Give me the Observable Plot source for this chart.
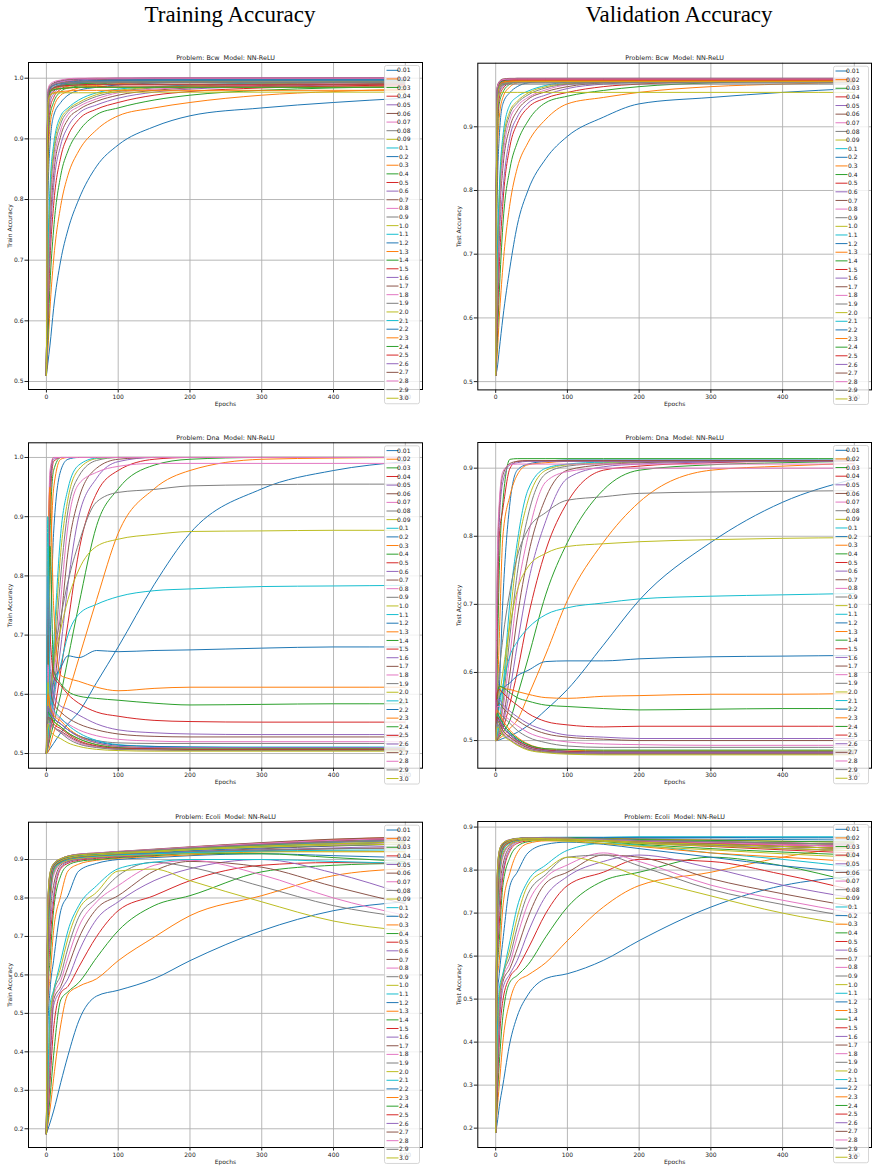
<!DOCTYPE html>
<html><head><meta charset="utf-8">
<script src="https://cdn.jsdelivr.net/npm/d3@7"></script>
<script src="https://cdn.jsdelivr.net/npm/@observablehq/plot@0.6"></script>
<style>
body{margin:0;background:#fff;}
#fig{position:relative;width:878px;height:1172px;overflow:hidden;background:#fff;}
.coltitle{position:absolute;top:2px;font-family:"Liberation Serif","DejaVu Serif",serif;font-size:23px;line-height:26px;color:#000;transform:translateX(-50%);white-space:nowrap;}
.panel{position:absolute;}
.panel svg{max-width:none;overflow:visible;}
</style></head><body><div id="fig"></div>
<script>
const rates = ["0.01","0.02","0.03","0.04","0.05","0.06","0.07","0.08","0.09","0.1","0.2","0.3","0.4","0.5","0.6","0.7","0.8","0.9","1.0","1.1","1.2","1.3","1.4","1.5","1.6","1.7","1.8","1.9","2.0","2.1","2.2","2.3","2.4","2.5","2.6","2.7","2.8","2.9","3.0"];
const epochs = [0,2,5,10,20,30,45,70,100,150,200,300,400,499];
const xTicks = [0,100,200,300,400,500];
const yTicksBcwTrain = [0.5,0.6,0.7,0.8,0.9,1.0];
const yTicksBcwTest = [0.5,0.6,0.7,0.8,0.9];
const yTicksDnaTrain = [0.5,0.6,0.7,0.8,0.9,1.0];
const yTicksDnaTest = [0.5,0.6,0.7,0.8,0.9];
const yTicksEcoliTrain = [0.2,0.3,0.4,0.5,0.6,0.7,0.8,0.9];
const yTicksEcoliTest = [0.2,0.3,0.4,0.5,0.6,0.7,0.8,0.9];

const bcwTrain = [
[.51,.53,.56,.62,.70,.75,.80,.855,.89,.92,.938,.951,.960,.967],
[.51,.55,.62,.70,.79,.84,.88,.915,.938,.951,.960,.972,.978,.982],
[.51,.57,.66,.75,.84,.88,.912,.94,.951,.964,.972,.98,.984,.986],
[.51,.60,.70,.79,.87,.905,.932,.949,.96,.972,.978,.984,.987,.989],
[.51,.62,.725,.82,.89,.92,.942,.956,.967,.977,.982,.986,.989,.991],
[.51,.64,.75,.84,.905,.932,.948,.962,.972,.98,.984,.988,.99,.992],
[.51,.65,.77,.855,.915,.94,.953,.966,.976,.982,.985,.989,.992,.993],
[.51,.67,.79,.87,.925,.945,.957,.97,.978,.984,.987,.99,.993,.994],
[.51,.685,.805,.88,.932,.948,.96,.973,.98,.985,.988,.991,.994,.995],
[.51,.70,.82,.89,.938,.951,.964,.976,.982,.986,.989,.992,.994,.995],
[.51,.79,.89,.938,.96,.972,.98,.985,.989,.992,.994,.996,.997,.997],
[.51,.84,.92,.951,.972,.978,.984,.988,.991,.993,.995,.997,.998,.998],
[.51,.87,.938,.96,.978,.984,.987,.99,.993,.995,.996,.998,.999,.999],
[.51,.89,.95,.968,.982,.987,.99,.993,.995,.997,.998,.999,1,1],
[.51,.91,.96,.974,.985,.989,.992,.994,.996,.997,.998,.999,.999,.999],
[.51,.93,.968,.978,.987,.99,.993,.995,.997,.998,.999,1,1,1],
[.51,.94,.972,.98,.988,.991,.994,.996,.998,.999,1,1,1,1],
[.51,.95,.975,.982,.989,.992,.994,.996,.997,.998,.998,.998,.998,.998],
[.51,.96,.977,.983,.987,.989,.99,.992,.993,.994,.994,.995,.995,.995],
[.51,.955,.976,.983,.988,.99,.992,.994,.995,.996,.997,.997,.997,.997],
[.51,.96,.978,.984,.989,.991,.993,.995,.996,.997,.997,.997,.997,.997],
[.51,.965,.979,.983,.986,.987,.988,.989,.99,.99,.99,.99,.99,.99],
[.51,.96,.978,.984,.988,.99,.991,.992,.993,.993,.993,.993,.993,.993],
[.51,.965,.978,.981,.983,.984,.985,.986,.987,.987,.987,.987,.987,.987],
[.51,.97,.983,.988,.992,.994,.996,.998,.999,1,1,1,1,1],
[.51,.972,.984,.989,.993,.995,.997,.998,.999,1,1,1,1,1],
[.51,.975,.985,.99,.994,.996,.998,.999,1,1,1,1,1,1],
[.51,.97,.982,.986,.989,.991,.992,.993,.993,.993,.993,.993,.993,.993],
[.51,.965,.978,.981,.983,.984,.985,.985,.985,.985,.985,.985,.985,.985],
[.51,.968,.98,.984,.987,.988,.989,.99,.99,.99,.99,.99,.99,.99],
[.51,.97,.983,.988,.991,.993,.995,.996,.997,.997,.997,.997,.997,.997],
[.51,.96,.972,.976,.978,.979,.98,.98,.98,.98,.98,.98,.98,.98],
[.51,.965,.977,.981,.983,.984,.985,.985,.985,.985,.985,.985,.985,.985],
[.51,.968,.98,.984,.987,.988,.989,.99,.99,.99,.99,.99,.99,.99],
[.51,.975,.986,.991,.995,.997,.998,.999,1,1,1,1,1,1],
[.51,.978,.988,.992,.996,.998,.999,1,1,1,1,1,1,1],
[.51,.98,.99,.994,.997,.999,1,1,1,1,1,1,1,1],
[.51,.972,.985,.989,.992,.993,.994,.995,.995,.995,.995,.995,.995,.995],
[.51,.955,.972,.975,.976,.976,.976,.976,.977,.977,.977,.977,.977,.977]
];

const bcwTest = [
[.51,.52,.55,.60,.68,.745,.80,.85,.885,.915,.936,.946,.954,.96],
[.51,.54,.60,.68,.78,.835,.875,.912,.936,.946,.954,.963,.967,.97],
[.51,.56,.64,.745,.835,.875,.909,.938,.948,.957,.963,.969,.972,.973],
[.51,.58,.68,.78,.87,.905,.93,.945,.954,.963,.967,.971,.973,.974],
[.51,.60,.72,.80,.885,.915,.937,.95,.96,.967,.97,.973,.974,.975],
[.51,.62,.745,.835,.9,.925,.943,.955,.963,.969,.971,.973,.975,.975],
[.51,.64,.76,.85,.912,.932,.946,.958,.966,.97,.972,.974,.975,.975],
[.51,.66,.78,.865,.92,.937,.95,.961,.967,.97,.973,.974,.975,.975],
[.51,.67,.79,.875,.925,.94,.953,.963,.968,.971,.973,.974,.975,.975],
[.51,.68,.80,.885,.935,.947,.956,.965,.97,.972,.974,.975,.975,.975],
[.51,.78,.885,.936,.954,.963,.969,.972,.974,.975,.975,.975,.975,.975],
[.51,.835,.915,.946,.963,.969,.972,.974,.975,.975,.975,.975,.975,.975],
[.51,.87,.936,.954,.967,.971,.973,.974,.975,.975,.975,.975,.975,.975],
[.51,.89,.945,.96,.969,.972,.973,.974,.974,.974,.974,.974,.974,.974],
[.51,.9,.952,.963,.97,.972,.973,.974,.975,.975,.975,.975,.975,.975],
[.51,.91,.955,.965,.971,.973,.974,.975,.975,.975,.975,.975,.975,.975],
[.51,.92,.958,.967,.972,.974,.975,.975,.975,.975,.975,.975,.975,.975],
[.51,.93,.96,.966,.969,.97,.97,.97,.97,.97,.97,.97,.97,.97],
[.51,.93,.962,.968,.971,.972,.972,.972,.972,.972,.972,.972,.972,.972],
[.51,.935,.963,.969,.972,.973,.974,.974,.974,.974,.974,.974,.974,.974],
[.51,.94,.965,.97,.973,.974,.975,.975,.975,.975,.975,.975,.975,.975],
[.51,.94,.964,.969,.971,.972,.972,.972,.972,.972,.972,.972,.972,.972],
[.51,.945,.966,.971,.974,.975,.975,.975,.975,.975,.975,.975,.975,.975],
[.51,.945,.965,.97,.972,.973,.973,.973,.973,.973,.973,.973,.973,.973],
[.51,.95,.967,.972,.974,.975,.975,.975,.975,.975,.975,.975,.975,.975],
[.51,.95,.968,.973,.975,.976,.976,.976,.976,.976,.976,.976,.976,.976],
[.51,.952,.968,.972,.974,.975,.975,.975,.975,.975,.975,.975,.975,.975],
[.51,.95,.963,.966,.967,.967,.967,.967,.967,.967,.967,.967,.967,.967],
[.51,.945,.963,.968,.97,.971,.971,.971,.971,.971,.971,.971,.971,.971],
[.51,.955,.968,.972,.974,.974,.974,.974,.974,.974,.974,.974,.974,.974],
[.51,.955,.969,.973,.975,.975,.975,.975,.975,.975,.975,.975,.975,.975],
[.51,.95,.966,.97,.972,.972,.972,.972,.972,.972,.972,.972,.972,.972],
[.51,.955,.968,.972,.974,.975,.975,.975,.975,.975,.975,.975,.975,.975],
[.51,.958,.969,.973,.974,.974,.974,.974,.974,.974,.974,.974,.974,.974],
[.51,.96,.97,.974,.975,.976,.976,.976,.976,.976,.976,.976,.976,.976],
[.51,.962,.971,.975,.976,.976,.976,.976,.976,.976,.976,.976,.976,.976],
[.51,.96,.97,.974,.975,.975,.975,.975,.975,.975,.975,.975,.975,.975],
[.51,.955,.965,.968,.969,.969,.969,.969,.969,.969,.969,.969,.969,.969],
[.51,.93,.952,.954,.954,.954,.954,.954,.954,.954,.954,.954,.954,.954]
];

const dnaTrain = [
[.5,.503,.508,.517,.535,.55,.57,.62,.68,.785,.872,.947,.978,.993],
[.5,.502,.513,.535,.565,.60,.66,.76,.872,.947,.978,.997,.999,1],
[.5,.509,.525,.55,.60,.66,.75,.885,.947,.987,.997,1,1,1],
[.5,.511,.535,.565,.64,.72,.84,.94,.978,.997,1,1,1,1],
[.5,.513,.54,.585,.68,.785,.9,.965,.993,1,1,1,1,1],
[.5,.518,.55,.60,.72,.84,.93,.982,.997,1,1,1,1,1],
[.5,.522,.557,.62,.76,.885,.955,.975,.985,.99,.99,.99,.99,.99],
[.5,.525,.565,.64,.80,.91,.968,.995,1,1,1,1,1,1],
[.5,.528,.57,.66,.84,.93,.98,.998,1,1,1,1,1,1],
[.5,.53,.575,.68,.872,.947,.987,.999,1,1,1,1,1,1],
[.5,.565,.68,.872,.978,.997,1,1,1,1,1,1,1,1],
[.5,.60,.785,.947,.997,1,1,1,1,1,1,1,1,1],
[.5,.64,.872,.978,1,1,1,1,1,1,1,1,1,1],
[.5,.68,.92,.993,1,1,1,1,1,1,1,1,1,1],
[.5,.72,.947,.997,1,1,1,1,1,1,1,1,1,1],
[.5,.76,.965,1,1,1,1,1,1,1,1,1,1,1],
[.5,.785,.978,1,1,1,1,1,1,1,1,1,1,1],
[.5,.55,.6,.66,.73,.79,.855,.925,.941,.946,.952,.954,.955,.955],
[.5,.55,.6,.65,.71,.76,.81,.85,.862,.87,.875,.876,.877,.877],
[.5,.53,.55,.6,.65,.70,.735,.752,.765,.775,.778,.782,.783,.784],
[.5,.56,.58,.62,.645,.665,.662,.674,.672,.674,.675,.678,.68,.68],
[.5,.8,.95,.75,.632,.627,.622,.612,.606,.61,.612,.612,.612,.612],
[.5,.7,.85,.64,.618,.605,.597,.593,.59,.585,.582,.583,.584,.584],
[.5,.75,.7,.63,.615,.60,.585,.57,.563,.556,.554,.553,.553,.553],
[.5,.8,.65,.6,.58,.575,.565,.55,.54,.535,.533,.532,.532,.532],
[.5,.7,.62,.585,.57,.56,.55,.54,.533,.529,.528,.528,.528,.528],
[.5,.65,.6,.57,.558,.55,.54,.53,.524,.521,.52,.52,.52,.52],
[.5,.6,.58,.56,.55,.54,.53,.522,.518,.517,.517,.517,.517,.517],
[.5,.62,.57,.555,.545,.535,.525,.515,.51,.508,.507,.507,.507,.507],
[.5,.9,.6,.575,.56,.548,.535,.522,.515,.512,.511,.511,.511,.511],
[.5,.58,.57,.56,.55,.54,.53,.52,.514,.512,.511,.51,.51,.51],
[.5,.6,.58,.565,.555,.543,.53,.518,.512,.51,.51,.509,.509,.509],
[.5,.57,.565,.555,.545,.535,.525,.515,.51,.508,.508,.508,.508,.508],
[.5,.56,.56,.55,.542,.533,.522,.513,.509,.508,.507,.507,.507,.507],
[.5,.58,.57,.56,.55,.54,.528,.518,.512,.51,.51,.51,.51,.51],
[.5,.56,.555,.545,.538,.53,.52,.512,.508,.507,.506,.506,.506,.506],
[.5,.55,.55,.545,.536,.528,.518,.511,.507,.506,.505,.505,.505,.505],
[.5,.56,.555,.545,.535,.525,.516,.51,.507,.506,.505,.505,.505,.505],
[.5,.55,.54,.532,.525,.518,.512,.507,.505,.504,.504,.504,.504,.504]
];

const dnaTest = [
[.5,.5,.501,.503,.507,.512,.522,.545,.575,.64,.706,.791,.85,.884],
[.5,.5,.503,.507,.518,.53,.565,.627,.706,.791,.85,.897,.903,.907],
[.5,.501,.505,.512,.53,.565,.62,.715,.791,.868,.897,.905,.908,.91],
[.5,.502,.507,.518,.555,.60,.68,.78,.85,.897,.903,.908,.91,.91],
[.5,.503,.509,.525,.575,.64,.73,.823,.885,.902,.906,.909,.91,.91],
[.5,.504,.512,.53,.60,.68,.77,.857,.897,.905,.908,.91,.91,.91],
[.5,.505,.515,.545,.627,.715,.80,.88,.895,.9,.9,.9,.9,.9],
[.5,.506,.518,.555,.655,.745,.83,.892,.903,.907,.909,.91,.91,.91],
[.5,.507,.52,.565,.68,.775,.852,.897,.905,.908,.91,.91,.91,.91],
[.5,.507,.525,.575,.706,.791,.868,.9,.906,.909,.91,.91,.91,.91],
[.5,.518,.575,.706,.85,.897,.906,.91,.912,.912,.912,.912,.912,.912],
[.5,.55,.65,.8,.86,.89,.905,.908,.91,.91,.91,.91,.91,.91],
[.5,.6,.75,.85,.913,.914,.914,.914,.914,.914,.914,.914,.914,.914],
[.5,.65,.8,.84,.9,.91,.911,.911,.911,.911,.911,.911,.911,.911],
[.5,.7,.82,.88,.905,.908,.91,.91,.91,.91,.91,.91,.91,.91],
[.5,.72,.84,.89,.907,.91,.911,.911,.911,.911,.911,.911,.911,.911],
[.5,.75,.85,.895,.905,.906,.906,.906,.906,.906,.906,.906,.906,.906],
[.5,.55,.6,.65,.72,.77,.81,.835,.853,.858,.863,.865,.866,.867],
[.5,.53,.56,.6,.67,.72,.755,.775,.785,.789,.792,.795,.797,.798],
[.5,.52,.55,.58,.625,.645,.665,.685,.695,.702,.708,.712,.714,.716],
[.5,.53,.56,.575,.585,.595,.603,.616,.617,.617,.62,.623,.624,.625],
[.5,.55,.58,.577,.575,.572,.568,.563,.562,.565,.566,.568,.568,.569],
[.5,.56,.58,.578,.57,.563,.558,.552,.55,.547,.545,.546,.547,.547],
[.5,.57,.575,.57,.56,.552,.54,.528,.523,.52,.521,.521,.521,.521],
[.5,.56,.56,.553,.543,.535,.525,.515,.508,.505,.503,.503,.503,.503],
[.5,.55,.555,.548,.538,.53,.52,.51,.505,.502,.5,.5,.5,.5],
[.5,.55,.55,.54,.53,.522,.512,.503,.498,.495,.494,.493,.493,.493],
[.5,.54,.54,.535,.525,.515,.505,.497,.492,.49,.49,.49,.49,.49],
[.5,.53,.525,.515,.505,.498,.49,.484,.482,.481,.481,.481,.481,.481],
[.5,.54,.535,.525,.512,.503,.494,.487,.485,.484,.484,.484,.484,.484],
[.5,.535,.53,.52,.51,.501,.492,.486,.484,.483,.483,.483,.483,.483],
[.5,.545,.54,.53,.515,.505,.495,.488,.486,.485,.485,.485,.485,.485],
[.5,.54,.535,.525,.512,.503,.494,.488,.487,.486,.486,.486,.486,.486],
[.5,.535,.53,.52,.508,.5,.492,.486,.484,.483,.483,.483,.483,.483],
[.5,.53,.53,.52,.508,.499,.49,.485,.483,.482,.482,.482,.482,.482],
[.5,.53,.525,.515,.505,.497,.489,.484,.482,.481,.481,.481,.481,.481],
[.5,.525,.52,.512,.503,.495,.488,.483,.481,.48,.48,.48,.48,.48],
[.5,.525,.52,.51,.501,.494,.487,.483,.481,.48,.48,.48,.48,.48],
[.5,.52,.518,.508,.5,.493,.486,.482,.48,.479,.479,.479,.479,.479]
];

const ecoliTrain = [
[.187,.198,.215,.246,.32,.39,.48,.545,.56,.59,.637,.715,.767,.79],
[.187,.21,.25,.33,.47,.55,.57,.59,.637,.698,.754,.806,.858,.876],
[.187,.22,.28,.39,.535,.556,.58,.645,.715,.78,.806,.868,.885,.89],
[.187,.235,.32,.46,.553,.57,.62,.70,.767,.806,.845,.885,.892,.89],
[.187,.246,.355,.52,.56,.59,.66,.745,.79,.845,.876,.9,.865,.81],
[.187,.26,.39,.535,.57,.62,.695,.772,.806,.87,.895,.88,.83,.785],
[.187,.27,.425,.545,.585,.645,.725,.79,.832,.885,.898,.86,.8,.755],
[.187,.29,.46,.553,.6,.67,.75,.8,.858,.893,.88,.83,.78,.75],
[.187,.3,.49,.556,.62,.695,.77,.815,.87,.875,.845,.79,.74,.715],
[.187,.32,.52,.56,.637,.715,.78,.832,.876,.893,.9,.9,.895,.89],
[.187,.46,.56,.637,.767,.806,.87,.89,.9,.905,.91,.915,.91,.905],
[.187,.535,.59,.715,.806,.87,.888,.898,.903,.908,.912,.92,.922,.92],
[.187,.553,.637,.767,.858,.885,.895,.9,.905,.91,.915,.915,.905,.895],
[.187,.56,.68,.79,.876,.89,.898,.903,.907,.912,.917,.923,.928,.93],
[.187,.57,.715,.806,.88,.893,.9,.905,.908,.913,.918,.925,.93,.935],
[.187,.585,.745,.832,.885,.895,.902,.906,.91,.915,.92,.928,.935,.94],
[.187,.6,.767,.858,.888,.897,.903,.907,.911,.916,.922,.93,.938,.945],
[.187,.62,.78,.865,.89,.898,.904,.908,.912,.916,.92,.925,.928,.93],
[.187,.637,.79,.87,.89,.898,.903,.907,.91,.913,.916,.92,.92,.92],
[.187,.66,.8,.872,.892,.9,.905,.909,.912,.915,.918,.922,.924,.925],
[.187,.68,.81,.875,.893,.901,.906,.91,.914,.918,.923,.93,.936,.94],
[.187,.69,.82,.877,.895,.902,.907,.911,.915,.92,.926,.935,.944,.95],
[.187,.7,.825,.878,.895,.903,.908,.912,.916,.921,.926,.934,.941,.945],
[.187,.71,.83,.88,.896,.904,.909,.913,.917,.923,.929,.939,.948,.955],
[.187,.72,.835,.88,.897,.904,.909,.913,.917,.922,.928,.937,.945,.95],
[.187,.73,.84,.882,.898,.905,.91,.914,.918,.924,.93,.94,.949,.955],
[.187,.735,.84,.882,.898,.905,.91,.914,.918,.923,.928,.937,.945,.95],
[.187,.74,.845,.883,.898,.905,.91,.913,.917,.922,.927,.935,.941,.945],
[.187,.75,.845,.883,.897,.904,.909,.912,.916,.92,.925,.932,.937,.94],
[.187,.75,.85,.884,.899,.906,.911,.914,.918,.923,.928,.937,.945,.95],
[.187,.76,.85,.885,.9,.907,.912,.915,.919,.925,.931,.941,.95,.955],
[.187,.765,.855,.886,.9,.907,.912,.916,.92,.926,.932,.943,.952,.958],
[.187,.77,.855,.886,.9,.907,.912,.915,.919,.924,.929,.938,.946,.95],
[.187,.775,.86,.887,.901,.908,.913,.916,.92,.925,.931,.941,.95,.955],
[.187,.78,.86,.887,.901,.908,.913,.916,.92,.925,.93,.939,.946,.95],
[.187,.78,.862,.888,.902,.909,.914,.917,.921,.927,.933,.944,.953,.958],
[.187,.785,.862,.888,.902,.909,.914,.917,.921,.926,.932,.942,.95,.955],
[.187,.79,.865,.889,.902,.909,.913,.916,.92,.925,.93,.939,.946,.95],
[.187,.79,.865,.889,.902,.908,.912,.915,.918,.922,.927,.935,.941,.945]
];

const ecoliTest = [
[.19,.21,.25,.3,.4,.46,.51,.548,.559,.59,.636,.714,.764,.785],
[.19,.24,.3,.4,.497,.54,.556,.585,.636,.714,.764,.795,.83,.855],
[.19,.26,.35,.46,.54,.555,.58,.645,.714,.775,.795,.83,.81,.772],
[.19,.28,.4,.497,.552,.572,.617,.7,.764,.795,.825,.82,.79,.753],
[.19,.3,.43,.525,.559,.59,.655,.74,.785,.82,.835,.805,.765,.735],
[.19,.32,.46,.54,.572,.617,.69,.77,.795,.835,.83,.78,.745,.715],
[.19,.34,.48,.547,.585,.645,.722,.783,.812,.84,.82,.765,.73,.7],
[.19,.36,.497,.552,.6,.667,.745,.79,.83,.835,.81,.755,.72,.69],
[.19,.38,.51,.556,.617,.69,.765,.8,.83,.815,.785,.74,.7,.671],
[.19,.4,.525,.559,.636,.714,.775,.812,.846,.862,.858,.84,.825,.807],
[.19,.497,.559,.636,.764,.795,.84,.86,.865,.86,.85,.83,.81,.795],
[.19,.54,.59,.714,.795,.84,.862,.868,.868,.862,.855,.84,.83,.82],
[.19,.552,.636,.764,.83,.855,.866,.87,.87,.866,.86,.85,.842,.835],
[.19,.559,.675,.785,.845,.862,.868,.871,.871,.868,.863,.855,.847,.84],
[.19,.572,.714,.795,.85,.865,.87,.872,.872,.869,.865,.858,.851,.845],
[.19,.585,.74,.812,.855,.867,.871,.873,.873,.871,.867,.861,.855,.85],
[.19,.6,.764,.83,.858,.868,.872,.874,.874,.873,.87,.866,.863,.86],
[.19,.617,.775,.835,.86,.868,.871,.872,.871,.868,.863,.857,.85,.845],
[.19,.636,.785,.84,.86,.867,.869,.869,.867,.862,.856,.847,.838,.83],
[.19,.66,.795,.845,.863,.87,.873,.875,.876,.876,.877,.877,.877,.877],
[.19,.68,.805,.848,.864,.87,.873,.875,.875,.874,.873,.872,.871,.87],
[.19,.69,.81,.85,.865,.871,.874,.875,.875,.874,.872,.87,.867,.865],
[.19,.7,.815,.852,.866,.871,.873,.874,.873,.871,.868,.865,.862,.86],
[.19,.71,.82,.853,.866,.871,.873,.873,.872,.869,.865,.86,.855,.85],
[.19,.72,.822,.854,.867,.872,.874,.874,.873,.87,.867,.863,.859,.855],
[.19,.73,.825,.855,.867,.872,.874,.874,.873,.871,.869,.866,.863,.86],
[.19,.735,.827,.856,.868,.872,.874,.874,.873,.87,.867,.863,.859,.855],
[.19,.74,.83,.857,.868,.872,.873,.873,.872,.869,.865,.86,.855,.85],
[.19,.745,.83,.857,.867,.871,.872,.872,.87,.867,.862,.856,.85,.845],
[.19,.75,.835,.858,.869,.873,.875,.876,.876,.876,.877,.877,.877,.877],
[.19,.755,.836,.859,.869,.873,.875,.876,.876,.876,.876,.876,.875,.875],
[.19,.76,.838,.86,.869,.873,.875,.875,.874,.872,.869,.866,.863,.86],
[.19,.765,.84,.86,.87,.873,.875,.875,.875,.873,.871,.869,.867,.865],
[.19,.77,.84,.861,.87,.873,.874,.874,.873,.871,.867,.863,.859,.855],
[.19,.775,.842,.862,.87,.873,.875,.875,.874,.872,.869,.866,.863,.86],
[.19,.78,.843,.862,.87,.873,.874,.874,.873,.87,.866,.861,.855,.85],
[.19,.78,.844,.863,.871,.873,.875,.875,.874,.871,.868,.864,.859,.855],
[.19,.785,.845,.863,.871,.874,.875,.875,.874,.872,.869,.866,.863,.86],
[.19,.785,.845,.863,.87,.873,.874,.873,.872,.869,.865,.86,.855,.85]
];

const tab10 = ["#1f77b4","#ff7f0e","#2ca02c","#d62728","#9467bd","#8c564b","#e377c2","#7f7f7f","#bcbd22","#17becf"];
const colors = rates.map((r, i) => tab10[i % 10]);

function toRows(series) {
  const out = [];
  series.forEach((vals, i) => vals.forEach((v, j) => out.push({lr: rates[i], e: epochs[j], v})));
  return out;
}

const panels = [
  {series: bcwTrain, problem: "Bcw", ylabel: "Train Accuracy", yticks: yTicksBcwTrain, ydom: [0.4868, 1.0259], left: 0, top: 40, w: 440, h: 380, ml: 28, mr: 18, mt: 22, mb: 31},
  {series: bcwTest, problem: "Bcw", ylabel: "Test Accuracy", yticks: yTicksBcwTest, ydom: [0.487, 0.9998], left: 440, top: 40, w: 438, h: 380, ml: 37.3, mr: 7, mt: 22.7, mb: 30.6},
  {series: dnaTrain, problem: "Dna", ylabel: "Train Accuracy", yticks: yTicksDnaTrain, ydom: [0.4752, 1.0248], left: 0, top: 420, w: 440, h: 380, ml: 28, mr: 18, mt: 22.3, mb: 32.3},
  {series: dnaTest, problem: "Dna", ylabel: "Test Accuracy", yticks: yTicksDnaTest, ydom: [0.4594, 0.9377], left: 440, top: 420, w: 438, h: 380, ml: 37.3, mr: 7, mt: 22, mb: 32.3},
  {series: ecoliTrain, problem: "Ecoli", ylabel: "Train Accuracy", yticks: yTicksEcoliTrain, ydom: [0.1513, 0.997], left: 0, top: 800, w: 440, h: 372, ml: 28, mr: 18, mt: 21.7, mb: 25},
  {series: ecoliTest, problem: "Ecoli", ylabel: "Test Accuracy", yticks: yTicksEcoliTest, ydom: [0.155, 0.913], left: 440, top: 800, w: 438, h: 372, ml: 37.3, mr: 7, mt: 21, mb: 25}
];

const fig = document.getElementById("fig");
[["Training Accuracy", 230], ["Validation Accuracy", 679]].forEach(([t, cx]) => {
  const d = document.createElement("div");
  d.className = "coltitle";
  d.style.left = cx + "px";
  d.textContent = t;
  fig.appendChild(d);
});

panels.forEach(p => {
  const svg = Plot.plot({
    width: p.w, height: p.h,
    marginLeft: p.ml, marginRight: p.mr, marginTop: p.mt, marginBottom: p.mb,
    style: {fontFamily: "DejaVu Sans", fontSize: "6px", color: "#222", background: "transparent", overflow: "visible"},
    x: {domain: [-24.95, 523.95]},
    y: {domain: p.ydom},
    color: {domain: rates, range: colors},
    marks: [
      Plot.gridX(xTicks, {stroke: "#b0b0b0", strokeOpacity: 1, strokeWidth: 0.9}),
      Plot.gridY(p.yticks, {stroke: "#b0b0b0", strokeOpacity: 1, strokeWidth: 0.9}),
      Plot.line(toRows(p.series), {x: "e", y: "v", z: "lr", stroke: "lr", strokeWidth: 1, curve: "monotone-x"}),
      Plot.frame({stroke: "#000", strokeWidth: 1}),
      Plot.axisX(xTicks, {tickSize: 3.5, tickPadding: 1.5, fontSize: 6, tickFormat: d => String(d), label: "Epochs", labelAnchor: "center", labelArrow: "none", labelOffset: 16}),
      Plot.axisY(p.yticks, {tickSize: 3.5, tickPadding: 1.5, fontSize: 6, tickFormat: ".1f", label: p.ylabel, labelAnchor: "center", labelArrow: "none", labelOffset: 21}),
      Plot.text([`Problem: ${p.problem} \u00a0Model: NN-ReLU`], {frameAnchor: "top", dy: -3, lineAnchor: "bottom", fontSize: 6.4, fill: "#222"})
    ]
  });
  // legend (matplotlib style, upper right, overlapping)
  const g = d3.select(svg).append("g").attr("font-family", "DejaVu Sans").attr("font-size", 6);
  const bx = p.w - p.mr - 37.5, by = p.mt + 3.5, step = 8.63;
  g.append("rect").attr("x", bx).attr("y", by).attr("width", 35).attr("height", 4.8 + 38 * step + 5.5)
    .attr("rx", 2).attr("fill", "#fff").attr("fill-opacity", 0.8).attr("stroke", "#cccccc").attr("stroke-width", 0.8);
  rates.forEach((r, i) => {
    const y = by + 4.8 + i * step;
    g.append("line").attr("x1", bx + 2).attr("x2", bx + 14).attr("y1", y).attr("y2", y).attr("stroke", colors[i]).attr("stroke-width", 1);
    g.append("text").attr("x", bx + 19.3).attr("y", y).attr("dy", "0.35em").attr("fill", "#222").text(r);
  });
  const wrap = document.createElement("div");
  wrap.className = "panel";
  wrap.style.left = p.left + "px";
  wrap.style.top = p.top + "px";
  wrap.style.width = p.w + "px";
  wrap.style.height = p.h + "px";
  wrap.appendChild(svg);
  fig.appendChild(wrap);
});
</script></body></html>
